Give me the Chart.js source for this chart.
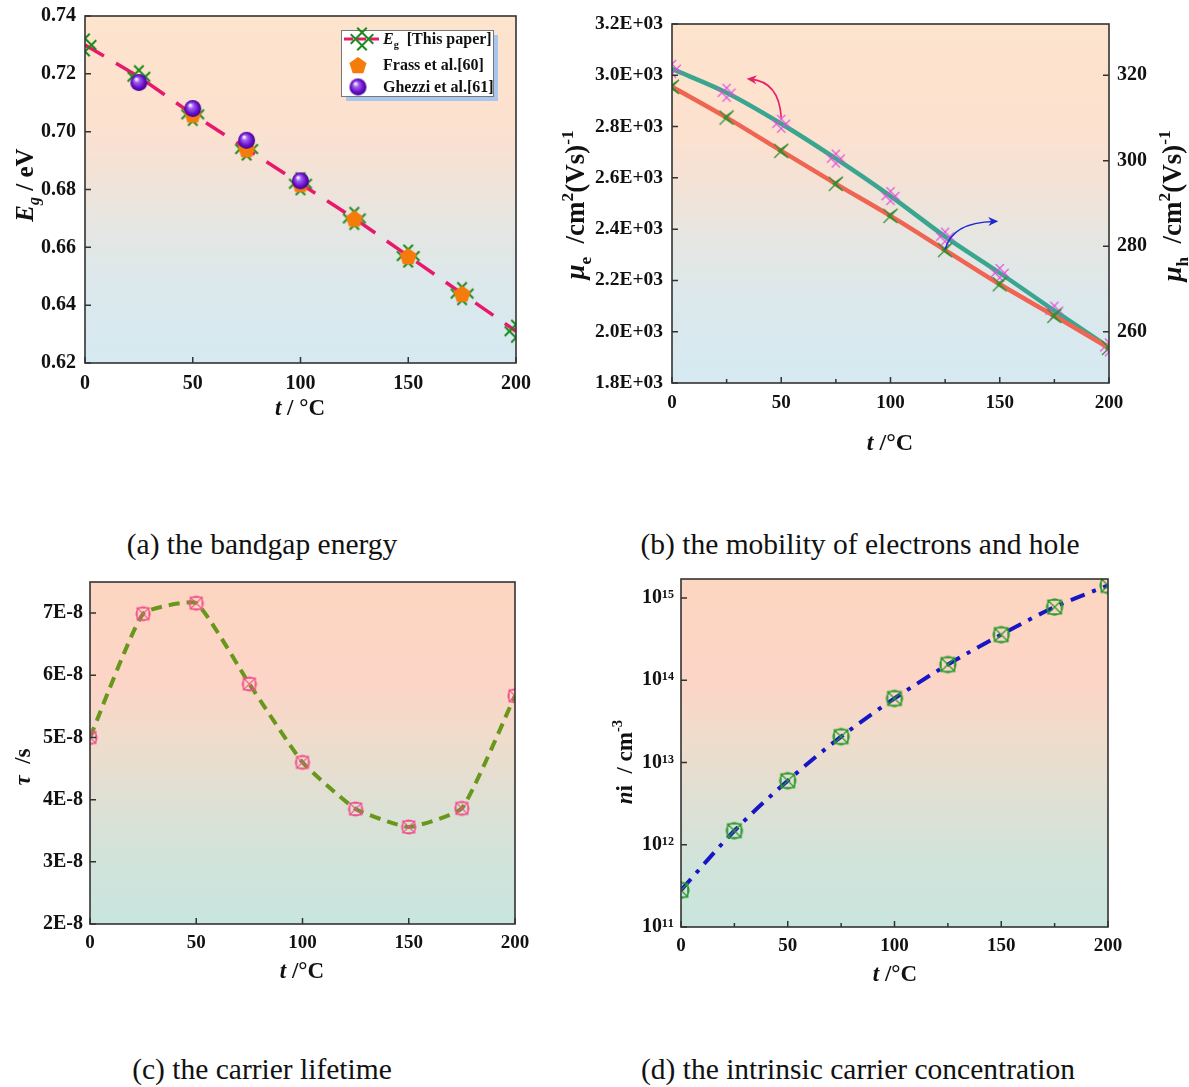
<!DOCTYPE html>
<html><head><meta charset="utf-8">
<script src="https://cdn.jsdelivr.net/npm/chart.js@4.4.0/dist/chart.umd.min.js"></script>
<style>
html,body{margin:0;padding:0;background:#fff}
body{width:1189px;height:1087px;position:relative;overflow:hidden}
.box{position:absolute}
.box canvas{display:block}
.cap{position:absolute;font-family:'Liberation Serif','Times New Roman',serif;font-size:29.5px;line-height:30px;color:#111;white-space:nowrap;transform:translateX(-50%)}
</style></head><body>
<div class="box" style="left:0;top:0"><canvas id="ca" width="560" height="430"></canvas></div>
<div class="box" style="left:560px;top:0"><canvas id="cb" width="629" height="470"></canvas></div>
<div class="box" style="left:0;top:570px"><canvas id="cc" width="560" height="430"></canvas></div>
<div class="box" style="left:600px;top:570px"><canvas id="cd" width="589" height="430"></canvas></div>
<div class="cap" style="left:262px;top:529px">(a) the bandgap energy</div>
<div class="cap" style="left:860px;top:529px">(b) the mobility of electrons and hole</div>
<div class="cap" style="left:262px;top:1054px">(c) the carrier lifetime</div>
<div class="cap" style="left:858px;top:1054px">(d) the intrinsic carrier concentration</div>
<script>
// ---------------- DATA ----------------
const temps = [0, 25, 50, 75, 100, 125, 150, 175, 200];
const xTickValues = [0, 50, 100, 150, 200];
const xMinorValues = [25, 75, 125, 175];

// (a) bandgap energy
const egLabels = ['Eg [This paper]', 'Frass et al.[60]', 'Ghezzi et al.[61]'];
const egThisPaper = [0.730, 0.719, 0.706, 0.694, 0.682, 0.670, 0.657, 0.644, 0.631];
const frassTemps = [50, 75, 100, 125, 150, 175];
const frassEg = [0.706, 0.694, 0.682, 0.670, 0.657, 0.644];
const ghezziTemps = [25, 50, 75, 100];
const ghezziEg = [0.717, 0.708, 0.697, 0.683];
const egTickValues = [0.62, 0.64, 0.66, 0.68, 0.70, 0.72, 0.74];

// (b) mobility
const muElectron = [3025, 2932, 2811, 2675, 2529, 2371, 2229, 2082, 1939];
const muHole = [317.3, 310.1, 302.3, 294.6, 287.1, 279.1, 271.1, 263.7, 256.2];
const muETickValues = [1800, 2000, 2200, 2400, 2600, 2800, 3000, 3200];
const muHTickValues = [260, 280, 300, 320];

// (c) carrier lifetime
const tauValues = [5.00e-8, 6.99e-8, 7.16e-8, 5.86e-8, 4.60e-8, 3.85e-8, 3.56e-8, 3.86e-8, 5.67e-8];
const tauTickValues = [2e-8, 3e-8, 4e-8, 5e-8, 6e-8, 7e-8];

// (d) intrinsic carrier concentration
const niValues = [2.8e11, 1.48e12, 6.0e12, 2.06e13, 6.0e13, 1.55e14, 3.58e14, 7.76e14, 1.42e15];
const niTickValues = [1e11, 1e12, 1e13, 1e14, 1e15];

// ---------------- HELPERS ----------------
const FF = "'Liberation Serif','Times New Roman',serif";
Chart.defaults.font.family = FF;
Chart.defaults.font.weight = 'bold';
Chart.defaults.color = '#111';
Chart.defaults.animation = false;

const pts = (xs, ys) => xs.map((x, i) => ({x, y: ys[i]}));

function mk(size, draw) {
  const c = document.createElement('canvas');
  c.width = size; c.height = size;
  const g = c.getContext('2d');
  g.translate(size / 2, size / 2);
  draw(g);
  return c;
}
function hashMarker(color, s, d, lw) {
  return mk(Math.ceil(2 * (s + d) + 4), g => {
    g.strokeStyle = color; g.lineWidth = lw; g.beginPath();
    for (const o of [-d, d]) {
      const k = o / Math.SQRT2;
      g.moveTo(-s + k, -s - k); g.lineTo(s + k, s - k);
      g.moveTo(-s + k, s + k); g.lineTo(s + k, -s + k);
    }
    g.stroke();
  });
}
function xTriMarker(color, s, lw) {
  return mk(2 * s + 6, g => {
    g.strokeStyle = color; g.lineWidth = lw; g.beginPath();
    g.moveTo(-s, -s); g.lineTo(s, s); g.moveTo(-s, s); g.lineTo(s, -s);
    g.moveTo(s, -s); g.lineTo(-s * 0.4, 0); g.lineTo(s, s);
    g.stroke();
  });
}
function boxCircleX(color, s, lw) {
  return mk(2 * s + 6, g => {
    g.strokeStyle = color; g.lineWidth = lw; g.beginPath();
    g.rect(-s * 0.85, -s * 0.85, s * 1.7, s * 1.7);
    g.moveTo(s, 0); g.arc(0, 0, s, 0, Math.PI * 2);
    g.moveTo(-s * 0.85, -s * 0.85); g.lineTo(s * 0.85, s * 0.85);
    g.moveTo(-s * 0.85, s * 0.85); g.lineTo(s * 0.85, -s * 0.85);
    g.stroke();
  });
}
function pentagon(color, r) {
  return mk(2 * r + 4, g => {
    g.fillStyle = color; g.beginPath();
    for (let i = 0; i < 5; i++) {
      const a = -Math.PI / 2 + i * 2 * Math.PI / 5;
      const px = r * Math.cos(a), py = r * Math.sin(a) + r * 0.1;
      i ? g.lineTo(px, py) : g.moveTo(px, py);
    }
    g.closePath(); g.fill();
  });
}
function sphere(r) {
  return mk(2 * r + 4, g => {
    const gr = g.createRadialGradient(-r * 0.3, -r * 0.4, r * 0.1, 0, 0, r);
    gr.addColorStop(0, '#f4e6ff'); gr.addColorStop(0.25, '#a060f0');
    gr.addColorStop(0.7, '#6a10c8'); gr.addColorStop(1, '#3c0090');
    g.fillStyle = gr; g.beginPath(); g.arc(0, 0, r, 0, Math.PI * 2); g.fill();
  });
}

const mEg = hashMarker('#1a8a1a', 8, 4.6, 2);
const mFrass = pentagon('#f57c0a', 9);
const mGhezzi = sphere(8.5);
const mMuE = hashMarker('#e24ddc', 6.5, 3.4, 1.3);
const mMuH = xTriMarker('#2e8f2e', 7, 1.2);
const mTau = boxCircleX('#f0508c', 7, 1.2);
const mNi = boxCircleX('#2c9a2c', 8, 1.3);

function segFont(s) { return `${s.i ? 'italic ' : ''}bold ${s.sz}px ${FF}`; }
const R = (t, sz) => ({t, sz});
const I = (t, sz) => ({t, sz, i: true});
const SUB = (t, sz, it) => ({t, sz: sz * 0.64, dy: sz * 0.24, i: it});
const SUP = (t, sz) => ({t, sz: sz * 0.64, dy: -sz * 0.42});
function drawRich(ctx, segs, cx, cy, rot, base, align) {
  ctx.save();
  ctx.translate(cx, cy);
  if (rot) ctx.rotate(rot);
  let w = 0;
  segs.forEach(s => { ctx.font = segFont(s); w += ctx.measureText(s.t).width; });
  let x = align === 'left' ? 0 : -w / 2;
  ctx.textBaseline = 'alphabetic'; ctx.textAlign = 'left'; ctx.fillStyle = '#111';
  segs.forEach(s => {
    ctx.font = segFont(s);
    ctx.fillText(s.t, x, (s.dy || 0) + base * 0.34);
    x += ctx.measureText(s.t).width;
  });
  ctx.restore();
}

function bgPlugin(stops) {
  return {id: 'bg', beforeDatasetsDraw(chart) {
    const {ctx, chartArea: a} = chart;
    const g = ctx.createLinearGradient(0, a.top, 0, a.bottom);
    stops.forEach(([p, c]) => g.addColorStop(p, c));
    ctx.save(); ctx.fillStyle = g; ctx.fillRect(a.left, a.top, a.width, a.height); ctx.restore();
  }};
}
const warmBlue = [[0, '#fde4cd'], [0.3, '#fde1cf'], [0.45, '#f3e2d6'], [0.6, '#e6e6e2'], [0.78, '#dbe8ec'], [1, '#d6e9f1']];
const warmMint = [[0, '#fdd6c1'], [0.3, '#fcd5c7'], [0.45, '#f0dccb'], [0.6, '#e2dfd2'], [0.8, '#d2e3da'], [1, '#c8e5de']];

function framePlugin(opts) {
  return {id: 'frame', afterDatasetsDraw(chart) {
    const {ctx, chartArea: a, scales} = chart;
    ctx.save();
    ctx.strokeStyle = '#333'; ctx.lineWidth = 1.5;
    ctx.beginPath();
    const x = scales.x;
    x.ticks.forEach(t => { const p = x.getPixelForValue(t.value); ctx.moveTo(p, a.bottom); ctx.lineTo(p, a.bottom - 6); });
    (opts.minor ? xMinorValues : []).forEach(v => { const p = x.getPixelForValue(v); ctx.moveTo(p, a.bottom); ctx.lineTo(p, a.bottom - 4); });
    const y = scales.y;
    y.ticks.forEach(t => { const p = y.getPixelForValue(t.value); ctx.moveTo(a.left, p); ctx.lineTo(a.left + 6, p); });
    if (scales.y2) scales.y2.ticks.forEach(t => { const p = scales.y2.getPixelForValue(t.value); ctx.moveTo(a.right, p); ctx.lineTo(a.right - 6, p); });
    ctx.stroke();
    ctx.lineWidth = 1.6;
    ctx.strokeRect(a.left, a.top, a.width, a.height);
    ctx.restore();
    (opts.titles || []).forEach(tt => drawRich(ctx, tt.segs, tt.x, tt.y, tt.rot, tt.base));
  }};
}

function xScale(h, pad, fs) {
  return {
    type: 'linear', min: 0, max: 200,
    afterBuildTicks: s => { s.ticks = xTickValues.map(v => ({value: v})); },
    afterFit: s => { s.height = h; s.paddingLeft = 0; s.paddingRight = 0; },
    grid: {display: false, drawTicks: false}, border: {display: false},
    ticks: {padding: pad, maxRotation: 0, font: {size: fs, weight: 'bold'}, color: '#111'}
  };
}
function yScale(w, vals, min, max, fmt, fs, pad, pos, type) {
  return {
    type: type || 'linear', position: pos || 'left', min, max,
    afterBuildTicks: s => { s.ticks = vals.map(v => ({value: v})); },
    afterFit: s => { s.width = w; s.paddingTop = 0; s.paddingBottom = 0; },
    grid: {display: false, drawTicks: false}, border: {display: false},
    ticks: {padding: pad, font: {size: fs, weight: 'bold'}, color: '#111', callback: fmt}
  };
}
const baseOpts = (pad, scales) => ({
  responsive: false, animation: false, devicePixelRatio: 1,
  layout: {padding: pad},
  plugins: {legend: {display: false}, tooltip: {enabled: false}},
  scales
});

function arrow(ctx, p0, c, p1, color) {
  ctx.save();
  ctx.strokeStyle = color; ctx.fillStyle = color; ctx.lineWidth = 1.6;
  ctx.beginPath(); ctx.moveTo(p0[0], p0[1]); ctx.quadraticCurveTo(c[0], c[1], p1[0], p1[1]); ctx.stroke();
  let dx = p1[0] - c[0], dy = p1[1] - c[1];
  const L = Math.hypot(dx, dy); dx /= L; dy /= L;
  const tip = [p1[0] + dx * 4, p1[1] + dy * 4];
  ctx.beginPath();
  ctx.moveTo(tip[0], tip[1]);
  ctx.lineTo(tip[0] - dx * 10 - dy * 4.5, tip[1] - dy * 10 + dx * 4.5);
  ctx.lineTo(tip[0] - dx * 7, tip[1] - dy * 7);
  ctx.lineTo(tip[0] - dx * 10 + dy * 4.5, tip[1] - dy * 10 - dx * 4.5);
  ctx.closePath(); ctx.fill();
  ctx.restore();
}

// ---------------- (a) ----------------
const legendPlugin = {id: 'legA', afterDraw(chart) {
  const {ctx, chartArea: a} = chart;
  const bx = a.right - 175, by = a.top + 14, bw = 152, bh = 66;
  ctx.save();
  ctx.fillStyle = '#a9c6ef'; ctx.fillRect(bx + 5, by + 5, bw, bh);
  ctx.fillStyle = '#fff'; ctx.fillRect(bx, by, bw, bh);
  ctx.strokeStyle = '#777'; ctx.lineWidth = 1; ctx.strokeRect(bx + 0.5, by + 0.5, bw, bh);
  const ds = chart.data.datasets;
  const eg = ds[2];
  ctx.strokeStyle = eg.borderColor; ctx.lineWidth = 3; ctx.setLineDash([9, 4]);
  ctx.beginPath(); ctx.moveTo(bx + 3, by + 9); ctx.lineTo(bx + 38, by + 9); ctx.stroke();
  ctx.setLineDash([]);
  ctx.drawImage(mEg, bx + 21 - mEg.width / 2, by + 9 - mEg.height / 2);
  ctx.drawImage(mFrass, bx + 17 - mFrass.width / 2, by + 35 - mFrass.height / 2);
  ctx.drawImage(mGhezzi, bx + 17 - mGhezzi.width / 2, by + 57 - mGhezzi.height / 2);
  ctx.restore();
  drawRich(ctx, [I('E', 16), SUB('g', 16), R('  [This paper]', 16)], bx + 42, by + 9, 0, 16, 'left');
  drawRich(ctx, [R(ds[1].label, 16)], bx + 42, by + 35, 0, 16, 'left');
  drawRich(ctx, [R(ds[0].label, 16)], bx + 42, by + 57, 0, 16, 'left');
}};

new Chart(document.getElementById('ca'), {
  type: 'line',
  data: {datasets: [
    {label: egLabels[2], data: pts(ghezziTemps, ghezziEg), showLine: false, pointStyle: mGhezzi, clip: 0},
    {label: egLabels[1], data: pts(frassTemps, frassEg), showLine: false, pointStyle: mFrass, clip: 0},
    {label: egLabels[0], data: pts(temps, egThisPaper), borderColor: '#e8196a', borderWidth: 3.5, borderDash: [22, 14], pointStyle: mEg, tension: 0, clip: 0}
  ]},
  options: baseOpts({top: 16, right: 44, left: 0, bottom: 0}, {
    x: xScale(67, 9, 20),
    y: yScale(85, egTickValues, 0.62, 0.74, v => v.toFixed(2), 20, 9)
  }),
  plugins: [bgPlugin(warmBlue), framePlugin({titles: [
    {segs: [I('E', 25), SUB('g', 25, true), R(' / eV', 25)], x: 24, y: 185, rot: -Math.PI / 2, base: 25},
    {segs: [I('t', 23), R(' / °C', 23)], x: 300, y: 407, base: 23}
  ]}), legendPlugin]
});

// ---------------- (b) ----------------
const arrowsB = {id: 'arrB', afterDatasetsDraw(chart) {
  const {ctx, scales: {x, y, y2}} = chart;
  arrow(ctx, [x.getPixelForValue(50), y.getPixelForValue(2835)], [x.getPixelForValue(49), y.getPixelForValue(2975)],
    [x.getPixelForValue(36), y.getPixelForValue(2985)], '#e8206a');
  arrow(ctx, [x.getPixelForValue(125), y2.getPixelForValue(279.2)], [x.getPixelForValue(128), y2.getPixelForValue(285.6)],
    [x.getPixelForValue(147.5), y2.getPixelForValue(285.8)], '#1a2ad0');
}};
new Chart(document.getElementById('cb'), {
  type: 'line',
  data: {datasets: [
    {label: 'μh', data: pts(temps, muHole), yAxisID: 'y2', borderColor: '#ef6552', borderWidth: 4.5, pointStyle: mMuH, cubicInterpolationMode: 'monotone', clip: 0},
    {label: 'μe', data: pts(temps, muElectron), yAxisID: 'y', borderColor: '#3aa690', borderWidth: 4.5, pointStyle: mMuE, cubicInterpolationMode: 'monotone', clip: 0}
  ]},
  options: baseOpts({top: 24, right: 0, left: 0, bottom: 0}, {
    x: xScale(87, 9, 19),
    y: yScale(112, muETickValues, 1800, 3200, v => (v / 1000).toFixed(1) + 'E+03', 19.5, 9),
    y2: yScale(80, muHTickValues, 248, 332, v => String(v), 20, 8, 'right')
  }),
  plugins: [bgPlugin(warmBlue), framePlugin({minor: true, titles: [
    {segs: [I('μ', 27), SUB('e', 27), R('  /cm', 27), SUP('2', 27), R('(Vs)', 27), SUP('-1', 27)], x: 15, y: 205, rot: -Math.PI / 2, base: 27},
    {segs: [I('μ', 27), SUB('h', 27), R('  /cm', 27), SUP('2', 27), R('(Vs)', 27), SUP('-1', 27)], x: 612, y: 206, rot: -Math.PI / 2, base: 27},
    {segs: [I('t', 24), R(' /°C', 24)], x: 330, y: 442, base: 24}
  ]}), arrowsB]
});

// ---------------- (c) ----------------
new Chart(document.getElementById('cc'), {
  type: 'line',
  data: {datasets: [
    {label: 'τ', data: pts(temps, tauValues), borderColor: '#67981b', borderWidth: 4, borderDash: [11, 7], pointStyle: mTau, tension: 0.14, clip: 0}
  ]},
  options: baseOpts({top: 12, right: 45, left: 0, bottom: 0}, {
    x: xScale(76, 8, 19),
    y: yScale(90, tauTickValues, 2e-8, 7.5e-8, v => Math.round(v * 1e8) + 'E-8', 20, 7)
  }),
  plugins: [bgPlugin(warmMint), framePlugin({titles: [
    {segs: [I('τ', 23), R('  /s', 23)], x: 22, y: 197, rot: -Math.PI / 2, base: 23},
    {segs: [I('t', 23), R(' /°C', 23)], x: 302, y: 400, base: 23}
  ]})]
});

// ---------------- (d) ----------------
const supDigits = {'0': '⁰', '1': '¹', '2': '²', '3': '³', '4': '⁴', '5': '⁵', '6': '⁶', '7': '⁷', '8': '⁸', '9': '⁹'};
const pow10Label = v => '10' + String(Math.round(Math.log10(v))).split('').map(c => supDigits[c]).join('');
new Chart(document.getElementById('cd'), {
  type: 'line',
  data: {datasets: [
    {label: 'ni', data: pts(temps, niValues), borderColor: '#1616c4', borderWidth: 4, borderDash: [15, 8, 4, 8], pointStyle: mNi, cubicInterpolationMode: 'monotone', clip: 0}
  ]},
  options: baseOpts({top: 9, right: 81, left: 0, bottom: 0}, {
    x: xScale(73, 8, 19),
    y: yScale(81, niTickValues, 1e11, 1.7e15, pow10Label, 20, 7, 'left', 'logarithmic')
  }),
  plugins: [bgPlugin(warmMint), framePlugin({minor: true, titles: [
    {segs: [I('n', 23), R('i', 23), R('  / cm', 23), SUP('-3', 23)], x: 24, y: 192, rot: -Math.PI / 2, base: 23},
    {segs: [I('t', 23), R(' /°C', 23)], x: 295, y: 403, base: 23}
  ]})]
});
</script>
</body></html>
